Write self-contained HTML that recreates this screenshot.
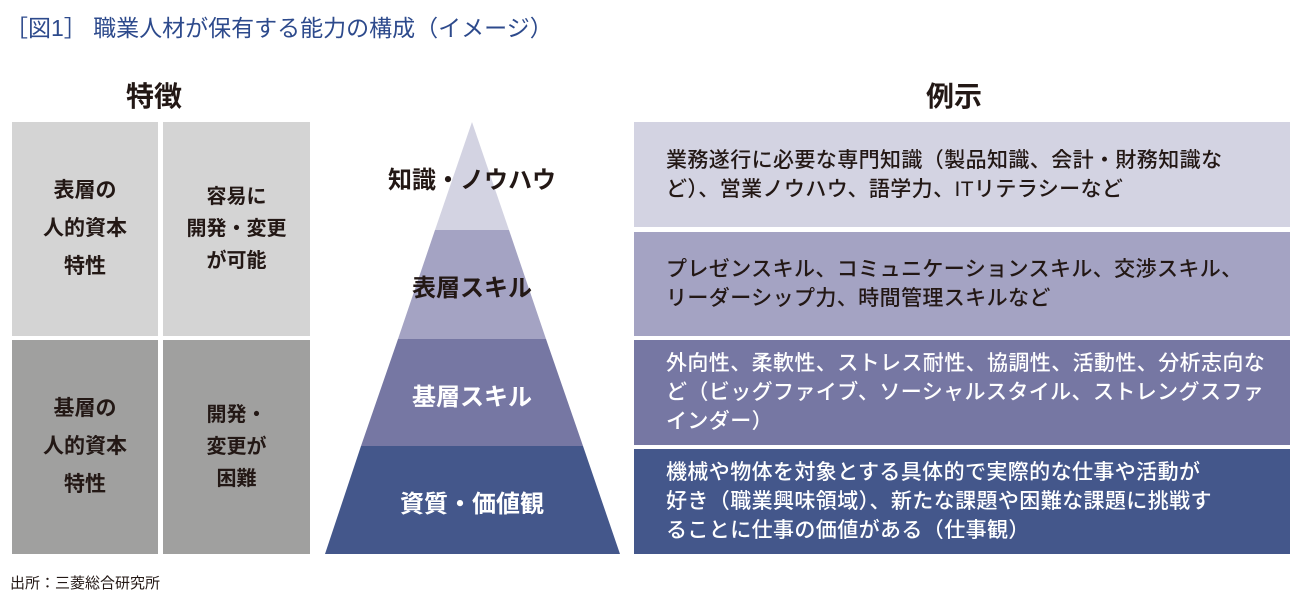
<!DOCTYPE html>
<html><head><meta charset="utf-8"><style>
body{margin:0;width:1300px;height:600px;background:#fff;position:relative;overflow:hidden;font-family:"Liberation Sans","Noto Sans CJK JP",sans-serif;}
.a{position:absolute;box-sizing:border-box;}
.c{display:flex;align-items:center;justify-content:center;text-align:center;font-weight:bold;color:#231815;font-size:21px;line-height:38px;}
.r{display:flex;align-items:center;padding-left:32px;font-size:21px;letter-spacing:0.4px;line-height:29px;font-weight:500;white-space:nowrap;}
</style></head><body>
<div class="a" style="left:5px;top:9px;font-size:23px;color:#2d4a8c;">［図1］ 職業人材が保有する能力の構成（イメージ）</div>
<div class="a" style="left:126px;top:75px;font-size:28px;font-weight:bold;color:#231815;">特徴</div>
<div class="a" style="left:926px;top:75px;font-size:28px;font-weight:bold;color:#231815;">例示</div>
<div class="a c" style="left:12px;top:122px;width:146px;height:214px;background:#d4d4d4;">表層の<br>人的資本<br>特性</div>
<div class="a c" style="left:163px;top:122px;width:147px;height:214px;background:#d4d4d4;line-height:32px;font-size:20px;">容易に<br>開発・変更<br>が可能</div>
<div class="a c" style="left:12px;top:340px;width:146px;height:214px;background:#a0a09f;">基層の<br>人的資本<br>特性</div>
<div class="a c" style="left:163px;top:340px;width:147px;height:214px;background:#a0a09f;line-height:32px;font-size:20px;">開発・<br>変更が<br>困難</div>
<svg class="a" style="left:0;top:0" width="1300" height="600">
<polygon points="472,122 509,230 435,230" fill="#d3d3e2"/>
<polygon points="435,230 509,230 546,339 398,339" fill="#a4a3c3"/>
<polygon points="398,339 546,339 583,446 361,446" fill="#7677a3"/>
<polygon points="361,446 583,446 620,554 325,554" fill="#44578b"/>
</svg>
<div class="a" style="left:372px;top:160px;width:200px;text-align:center;font-size:24px;font-weight:bold;color:#231815;">知識・ノウハウ</div>
<div class="a" style="left:372px;top:268px;width:200px;text-align:center;font-size:24px;font-weight:bold;color:#231815;">表層スキル</div>
<div class="a" style="left:372px;top:377px;width:200px;text-align:center;font-size:24px;font-weight:bold;color:#fff;">基層スキル</div>
<div class="a" style="left:372px;top:484px;width:200px;text-align:center;font-size:24px;font-weight:bold;color:#fff;">資質・価値観</div>
<div class="a r" style="left:634px;top:122px;width:656px;height:105px;background:#d3d3e2;color:#231815;">業務遂行に必要な専門知識（製品知識、会計・財務知識な<br>ど）、営業ノウハウ、語学力、ITリテラシーなど</div>
<div class="a r" style="left:634px;top:232px;width:656px;height:104px;background:#a4a3c3;color:#231815;">プレゼンスキル、コミュニケーションスキル、交渉スキル、<br>リーダーシップ力、時間管理スキルなど</div>
<div class="a r" style="left:634px;top:340px;width:656px;height:105px;background:#7677a3;color:#fff;">外向性、柔軟性、ストレス耐性、協調性、活動性、分析志向な<br>ど（ビッグファイブ、ソーシャルスタイル、ストレングスファ<br>インダー）</div>
<div class="a r" style="left:634px;top:449px;width:656px;height:105px;background:#44578b;color:#fff;">機械や物体を対象とする具体的で実際的な仕事や活動が<br>好き（職業興味領域）、新たな課題や困難な課題に挑戦す<br>ることに仕事の価値がある（仕事観）</div>
<div class="a" style="left:10px;top:572px;font-size:15px;color:#231815;">出所：三菱総合研究所</div>
</body></html>
